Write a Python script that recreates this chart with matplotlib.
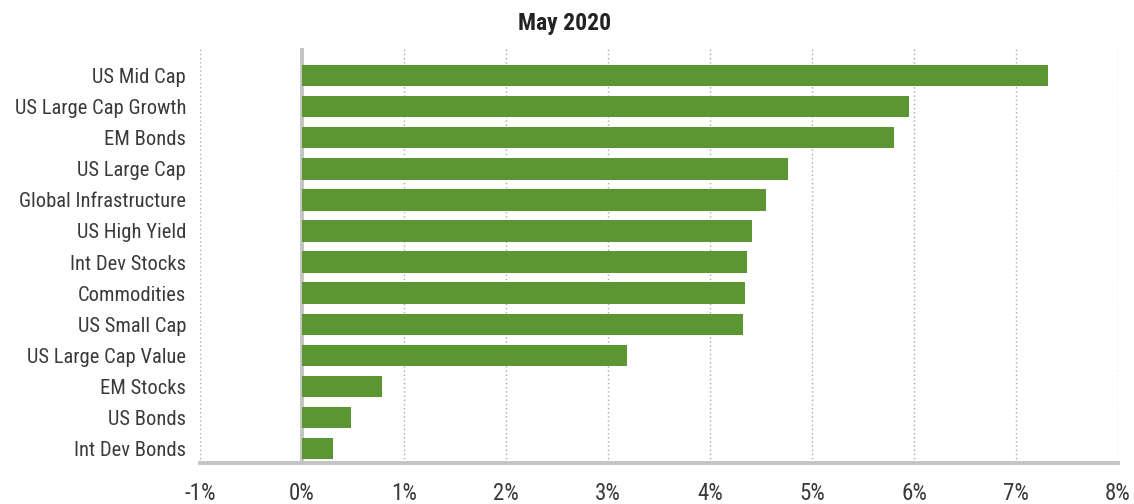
import matplotlib
matplotlib.use("Agg")
import matplotlib.pyplot as plt
from matplotlib import font_manager as fm
from matplotlib.ticker import FuncFormatter

categories = ["US Mid Cap", "US Large Cap Growth", "EM Bonds", "US Large Cap",
              "Global Infrastructure", "US High Yield", "Int Dev Stocks",
              "Commodities", "US Small Cap", "US Large Cap Value", "EM Stocks",
              "US Bonds", "Int Dev Bonds"]
values = [7.31, 5.95, 5.80, 4.76, 4.55, 4.41, 4.36, 4.34, 4.32, 3.19, 0.78, 0.48, 0.30]
xticks = [-1, 0, 1, 2, 3, 4, 5, 6, 7, 8]
title = "May 2020"

names = {f.name for f in fm.fontManager.ttflist}
fam = "DejaVu Sans"
for cand in ["Roboto Condensed", "Barlow Condensed", "Archivo Narrow", "PT Sans Narrow"]:
    if cand in names:
        fam = cand
        break
plt.rcParams['font.family'] = [fam, 'DejaVu Sans']

fig = plt.figure(figsize=(11.34, 5.04), dpi=100)
ax = fig.add_axes([0.1764, 0.0813, 0.9859 - 0.1764, 0.9048 - 0.0813])

green = "#5B9632"
ypos = list(range(len(categories)))
ax.barh(ypos, values, height=0.68, color=green, zorder=3)
ax.axvline(0, color="#c4c4c4", lw=2.8, zorder=2)

ax.set_xlim(-1, 8)
ax.set_ylim(12.48, -0.9)
ax.set_xticks(xticks)
ax.xaxis.set_major_formatter(FuncFormatter(lambda v, p: f"{int(v)}%"))
ax.set_yticks(ypos)
ax.set_yticklabels(categories)
ax.tick_params(axis='y', length=0, pad=10, labelsize=14.8, labelcolor="#3a3a3a")
ax.tick_params(axis='x', length=0, pad=14, labelsize=16.5, labelcolor="#3a3a3a")

ax.grid(axis='x', linestyle=(0, (1, 2)), color="#a4a9b2", lw=1.0, zorder=1)
for s in ["top", "right", "left"]:
    ax.spines[s].set_visible(False)
ax.spines["bottom"].set_color("#c4c4c4")
ax.spines["bottom"].set_linewidth(2.8)

fig.text(0.498, 0.953, title, ha="center", va="center", fontsize=17,
         fontweight="semibold", color="#222222")

fig.savefig("out.png", dpi=100)
